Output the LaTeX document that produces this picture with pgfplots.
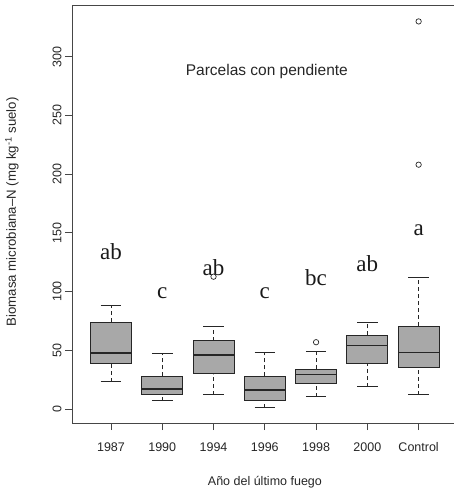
\documentclass[border=0pt]{standalone}
\usepackage{fontspec}
\setmainfont{Liberation Sans}
\newfontfamily\seriffont{Liberation Serif}
\usepackage{pgfplots}
\pgfplotsset{compat=1.18}
\definecolor{boxgray}{RGB}{168,168,168}
\definecolor{framegray}{RGB}{70,70,70}
\tikzset{lett/.style={font=\seriffont\fontsize{23}{26}\selectfont, text=black!90, inner sep=0pt}}
\pgfplotsset{
  bx/.style={draw=black!85, fill=boxgray, line width=0.9pt, mark=none},
  md/.style={draw=black!85, line width=1.6pt, mark=none},
  wh/.style={draw=black!85, line width=0.9pt, dash pattern=on 4pt off 3pt, mark=none},
  cp/.style={draw=black!85, line width=0.9pt, mark=none},
  ol/.style={only marks, mark=o, mark size=2.7pt, mark options={draw=black!85, line width=0.7pt}},
}
\begin{document}
\begin{tikzpicture}
\begin{axis}[
  scale only axis, width=382pt, height=418pt,
  xmin=0.24, xmax=7.69, ymin=-12, ymax=344,
  axis line style={draw=none},
  xtick={1,2,3,4,5,6,7}, xticklabels={1987,1990,1994,1996,1998,2000,Control},
  ytick={0,50,100,150,200,250,300},
  tickpos=left, tick align=outside, major tick length=7pt,
  tick style={framegray, line width=0.8pt},
  ticklabel style={font=\fontsize{12.5}{14}\selectfont, text=black!85},
  /pgf/number format/assume math mode=true,
  yticklabel style={rotate=90, anchor=south},
  xticklabel style={yshift=-9pt},
  xlabel={Año del último fuego},
  ylabel={Biomasa microbiana–N (mg kg\textsuperscript{-1} suelo)},
  every axis x label/.style={at={(axis description cs:0.505,0)}, anchor=center, yshift=-59pt, font=\fontsize{12.5}{14}\selectfont, text=black!85},
  every axis y label/.style={at={(axis description cs:0,0.505)}, rotate=90, anchor=center, yshift=60pt, font=\fontsize{13.2}{15}\selectfont, text=black!85},
  clip=false,
]
\coordinate (bl) at (rel axis cs:0,0);
\draw[framegray, line width=0.8pt, line cap=rect] (rel axis cs:1,1) -- (rel axis cs:0,1) -- (rel axis cs:0,0) -- (rel axis cs:1,0);
% 1987
\addplot[wh] coordinates {(1,23) (1,39)};
\addplot[wh] coordinates {(1,74) (1,88)};
\addplot[cp] coordinates {(0.8,23) (1.2,23)};
\addplot[cp] coordinates {(0.8,88) (1.2,88)};
\addplot[bx] coordinates {(0.6,39) (1.4,39) (1.4,74) (0.6,74)} -- cycle;
\addplot[md] coordinates {(0.6,47.4) (1.4,47.4)};
% 1990
\addplot[wh] coordinates {(2,7.1) (2,12.2)};
\addplot[wh] coordinates {(2,27.8) (2,47.4)};
\addplot[cp] coordinates {(1.8,7.1) (2.2,7.1)};
\addplot[cp] coordinates {(1.8,47.4) (2.2,47.4)};
\addplot[bx] coordinates {(1.6,12.2) (2.4,12.2) (2.4,27.8) (1.6,27.8)} -- cycle;
\addplot[md] coordinates {(1.6,16.8) (2.4,16.8)};
% 1994
\addplot[wh] coordinates {(3,11.9) (3,29.8)};
\addplot[wh] coordinates {(3,58.2) (3,70.4)};
\addplot[cp] coordinates {(2.8,11.9) (3.2,11.9)};
\addplot[cp] coordinates {(2.8,70.4) (3.2,70.4)};
\addplot[bx] coordinates {(2.6,29.8) (3.4,29.8) (3.4,58.2) (2.6,58.2)} -- cycle;
\addplot[md] coordinates {(2.6,45.7) (3.4,45.7)};
% 1996
\addplot[wh] coordinates {(4,0.85) (4,6.8)};
\addplot[wh] coordinates {(4,27.8) (4,47.9)};
\addplot[cp] coordinates {(3.8,0.85) (4.2,0.85)};
\addplot[cp] coordinates {(3.8,47.9) (4.2,47.9)};
\addplot[bx] coordinates {(3.6,6.8) (4.4,6.8) (4.4,27.8) (3.6,27.8)} -- cycle;
\addplot[md] coordinates {(3.6,15.9) (4.4,15.9)};
% 1998
\addplot[wh] coordinates {(5,10.2) (5,22.1)};
\addplot[wh] coordinates {(5,33.8) (5,48.8)};
\addplot[cp] coordinates {(4.8,10.2) (5.2,10.2)};
\addplot[cp] coordinates {(4.8,48.8) (5.2,48.8)};
\addplot[bx] coordinates {(4.6,22.1) (5.4,22.1) (5.4,33.8) (4.6,33.8)} -- cycle;
\addplot[md] coordinates {(4.6,29.2) (5.4,29.2)};
% 2000
\addplot[wh] coordinates {(6,19) (6,38.9)};
\addplot[wh] coordinates {(6,62.7) (6,73.8)};
\addplot[cp] coordinates {(5.8,19) (6.2,19)};
\addplot[cp] coordinates {(5.8,73.8) (6.2,73.8)};
\addplot[bx] coordinates {(5.6,38.9) (6.4,38.9) (6.4,62.7) (5.6,62.7)} -- cycle;
\addplot[md] coordinates {(5.6,53.9) (6.4,53.9)};
% Control
\addplot[wh] coordinates {(7,12.2) (7,35.2)};
\addplot[wh] coordinates {(7,70.4) (7,111.8)};
\addplot[cp] coordinates {(6.8,12.2) (7.2,12.2)};
\addplot[cp] coordinates {(6.8,111.8) (7.2,111.8)};
\addplot[bx] coordinates {(6.6,35.2) (7.4,35.2) (7.4,70.4) (6.6,70.4)} -- cycle;
\addplot[md] coordinates {(6.6,47.9) (7.4,47.9)};
% outliers
\addplot[ol] coordinates {(3,112.6) (5,56.8) (7,208) (7,330)};
\node[font=\fontsize{15.5}{18}\selectfont, text=black!85] at (axis cs:4.04,287) {Parcelas con pendiente};
\node[lett] at (axis cs:1,133.6) {ab};
\node[lett] at (axis cs:2,98.7) {c};
\node[lett] at (axis cs:3,120.4) {ab};
\node[lett] at (axis cs:4,98.7) {c};
\node[lett] at (axis cs:5,111.5) {bc};
\node[lett] at (axis cs:6,124) {ab};
\node[lett] at (axis cs:7,152.3) {a};
\end{axis}
\pgfresetboundingbox
\path ([shift={(-72pt,-66pt)}]bl) rectangle ([shift={(382pt,423pt)}]bl);
\end{tikzpicture}
\end{document}
